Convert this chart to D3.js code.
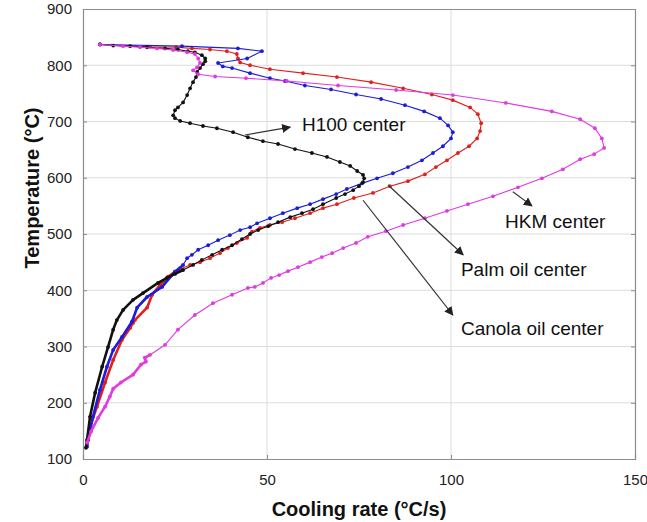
<!DOCTYPE html>
<html>
<head>
<meta charset="utf-8">
<script src="https://cdn.jsdelivr.net/npm/d3@7"></script>
<style>
  body { margin: 0; background: #fff; }
  text { font-family: "Liberation Sans", Arial, sans-serif; }
</style>
</head>
<body>
<div id="root"></div>
<script>
// cooling rate (°C/s), temperature (°C) pairs
const palmOil = [[4.6,837],[26.9,834],[42.1,830],[48.6,825],[44.6,812],[36.7,804],[38.0,798],[40.5,795],[45.4,786],[50.8,777],[54.9,772],[60.3,764],[67.4,757],[74.2,748],[81.0,740],[87.5,729],[92.7,718],[97.0,706],[99.2,693],[100.5,681],[100.0,670],[97.8,656],[95.1,644],[92.1,631],[88.3,619],[84.2,608],[79.9,599],[75.8,590],[71.7,580],[68.8,571],[65.2,562],[61.7,553],[58.2,546],[54.3,537],[50.8,528],[47.3,519],[45.4,512],[42.7,507],[39.9,498],[36.7,489],[34.0,480],[31.3,472],[29.6,463],[28.3,457],[27.2,445],[25.0,433],[21.5,406],[17.4,388],[14.7,369],[13.3,344],[10.6,317],[8.2,294],[6.5,264],[4.6,223],[2.7,175],[1.4,134],[1.1,122]];

const canolaOil = [[4.6,837],[18.2,833],[25.3,832],[29.6,830],[34.5,828],[39.1,825],[41.8,820],[42.1,812],[42.7,805],[45.4,800],[50.8,793],[59.8,786],[69.0,779],[78.3,770],[87.0,759],[94.8,748],[100.5,738],[105.2,725],[107.3,713],[108.2,697],[107.9,683],[107.1,670],[104.9,656],[101.9,644],[98.9,631],[95.9,619],[92.9,606],[88.3,594],[83.4,585],[78.8,573],[73.6,564],[69.0,553],[65.2,546],[61.7,537],[57.6,528],[54.1,521],[50.8,516],[48.1,511],[45.9,504],[44.6,493],[41.8,484],[39.4,475],[37.2,466],[34.5,457],[31.8,450],[29.1,445],[26.4,438],[25.0,433],[23.1,424],[20.9,409],[18.8,392],[17.4,369],[14.1,347],[13.6,342],[12.8,333],[10.6,312],[8.2,276],[6.0,236],[3.8,193],[1.9,157],[1.1,129]];

const h100 = [[4.6,837],[8.2,835],[12.8,834],[17.4,832],[22.3,830],[25.8,828],[28.5,825],[30.4,823],[32.3,818],[33.2,812],[33.2,807],[32.6,802],[31.8,795],[31.0,788],[30.7,779],[29.9,770],[29.1,759],[28.3,747],[27.2,734],[25.8,725],[25.0,720],[24.5,711],[25.0,706],[26.4,701],[29.1,697],[32.6,692],[36.4,688],[40.8,681],[44.8,672],[48.9,665],[53.0,660],[57.6,651],[62.2,644],[66.3,637],[69.8,628],[72.6,621],[74.5,612],[76.1,605],[76.4,599],[76.1,592],[75.0,585],[73.4,578],[71.2,571],[68.8,564],[65.2,553],[62.5,544],[59.5,537],[56.3,530],[53.0,521],[50.3,514],[47.6,507],[45.4,500],[43.2,491],[40.5,480],[37.8,472],[35.1,463],[32.3,454],[29.9,445],[27.2,436],[25.0,429],[22.8,422],[20.4,413],[16.3,395],[13.6,383],[10.9,365],[9.2,347],[8.2,330],[6.8,299],[5.2,264],[3.3,218],[1.9,175],[1.1,134],[0.8,120]];

const hkm = [[4.6,837],[10.9,834],[15.5,832],[20.1,830],[24.5,827],[28.3,823],[30.4,820],[31.3,812],[31.8,804],[31.0,796],[29.9,791],[31.3,784],[35.9,780],[44.3,777],[55.4,772],[69.3,764],[85.1,756],[100.5,747],[114.9,733],[127.4,718],[135.1,704],[139.1,688],[141.0,670],[141.6,653],[138.9,642],[135.1,633],[130.4,615],[124.7,599],[118.2,583],[111.4,567],[104.6,553],[98.9,541],[92.9,528],[87.0,516],[82.3,505],[77.4,495],[74.2,484],[70.7,475],[67.7,466],[64.9,459],[61.7,450],[58.4,441],[55.7,434],[53.3,427],[51.1,422],[48.9,413],[46.7,406],[44.8,404],[40.5,392],[35.3,377],[30.4,356],[25.8,330],[22.3,303],[18.2,285],[16.8,280],[17.1,273],[15.8,268],[13.6,250],[10.3,236],[8.2,225],[7.3,211],[6.0,193],[4.1,173],[2.2,149],[1.1,129]];

const seriesNames = ["Canola oil center", "Palm oil center", "H100 center", "HKM center"];
const seriesData = [canolaOil, palmOil, h100, hkm];
const seriesColors = ["#e0201c", "#1c1cd8", "#111111", "#e03ae0"];
const denseBelow = [440, 455, 440, 300];

const xTicks = [0, 50, 100, 150];
const yTicks = [100, 200, 300, 400, 500, 600, 700, 800, 900];

// label text, arrow tail, arrow head, text anchor point (data units)
const notes = [
  { text: "H100 center", from: [44.0, 676], to: [56.3, 690], at: [59.5, 692] },
  { text: "HKM center", from: [116.8, 575], to: [122.0, 550], at: [114.7, 520] },
  { text: "Palm oil center", from: [82.9, 587], to: [103.3, 463], at: [102.7, 434] },
  { text: "Canola oil center", from: [76.1, 560], to: [100.5, 356], at: [102.7, 329] }
];

const W = 647, H = 522;
const margin = { top: 9, right: 12, bottom: 63, left: 83 };
const width = W - margin.left - margin.right;
const height = H - margin.top - margin.bottom;

const svg = d3.select("#root").append("svg")
  .attr("width", W)
  .attr("height", H);

const x = d3.scaleLinear().domain([0, 150]).range([0, width]);
const y = d3.scaleLinear().domain([100, 900]).range([height, 0]);

const g = svg.append("g")
  .attr("transform", "translate(" + margin.left + "," + margin.top + ")");

// grid
g.append("g").selectAll("line")
  .data(yTicks.slice(1, -1))
  .enter().append("line")
  .attr("x1", 0).attr("x2", width)
  .attr("y1", d => y(d)).attr("y2", d => y(d))
  .attr("stroke", "#dcdcdc").attr("stroke-width", 1);

g.append("g").selectAll("line")
  .data(xTicks.slice(1, -1))
  .enter().append("line")
  .attr("y1", 0).attr("y2", height)
  .attr("x1", d => x(d)).attr("x2", d => x(d))
  .attr("stroke", "#dcdcdc").attr("stroke-width", 1);

// axes
const xAxis = g.append("g")
  .attr("transform", "translate(0," + height + ")")
  .call(d3.axisBottom(x).tickValues(xTicks).tickSize(-4).tickPadding(15));
const yAxis = g.append("g")
  .call(d3.axisLeft(y).tickValues(yTicks).tickSize(-4).tickPadding(11));
const rAxis = g.append("g")
  .attr("transform", "translate(" + width + ",0)")
  .call(d3.axisRight(y).tickValues(yTicks).tickSize(-4).tickFormat(""));
const tAxis = g.append("g")
  .call(d3.axisTop(x).tickValues(xTicks).tickSize(0).tickFormat(""));

[xAxis, yAxis, rAxis, tAxis].forEach(a => {
  a.select(".domain").attr("stroke", "#8c8c8c").attr("stroke-width", 1.2);
  a.selectAll(".tick line").attr("stroke", "#8c8c8c");
  a.selectAll(".tick text").attr("font-size", 15).attr("fill", "#222")
    .attr("font-family", "Liberation Sans, Arial, sans-serif");
});

// series
const line = d3.line().x(d => x(d[0])).y(d => y(d[1]));

seriesData.forEach((data, i) => {
  g.append("path")
    .datum(data)
    .attr("d", line)
    .attr("fill", "none")
    .attr("stroke", seriesColors[i])
    .attr("stroke-width", 1.1);

  g.append("path")
    .datum(data.filter(d => d[1] <= denseBelow[i]))
    .attr("d", line)
    .attr("fill", "none")
    .attr("stroke", seriesColors[i])
    .attr("stroke-width", 2.6)
    .attr("stroke-linejoin", "round");

  g.append("g").selectAll("circle")
    .data(data)
    .enter().append("circle")
    .attr("cx", d => x(d[0]))
    .attr("cy", d => y(d[1]))
    .attr("r", 1.9)
    .attr("fill", seriesColors[i]);
});

// annotations
svg.append("defs").append("marker")
  .attr("id", "arrow")
  .attr("viewBox", "0 0 10 10")
  .attr("refX", 9).attr("refY", 5)
  .attr("markerWidth", 9).attr("markerHeight", 9)
  .attr("markerUnits", "userSpaceOnUse")
  .attr("orient", "auto")
  .append("path")
  .attr("d", "M0,0 L10,5 L0,10 z")
  .attr("fill", "#222");

notes.forEach(n => {
  g.append("line")
    .attr("x1", x(n.from[0])).attr("y1", y(n.from[1]))
    .attr("x2", x(n.to[0])).attr("y2", y(n.to[1]))
    .attr("stroke", "#333").attr("stroke-width", 1.2)
    .attr("marker-end", "url(#arrow)");
  g.append("text")
    .attr("x", x(n.at[0])).attr("y", y(n.at[1]))
    .attr("dominant-baseline", "middle")
    .attr("font-size", 19)
    .attr("fill", "#111")
    .text(n.text);
});

// titles
svg.append("text")
  .attr("x", margin.left + width / 2)
  .attr("y", 511)
  .attr("text-anchor", "middle")
  .attr("dominant-baseline", "middle")
  .attr("font-size", 20).attr("font-weight", "bold")
  .attr("fill", "#111")
  .text("Cooling rate (°C/s)");

svg.append("text")
  .attr("transform", "translate(34,188) rotate(-90)")
  .attr("text-anchor", "middle")
  .attr("dominant-baseline", "middle")
  .attr("font-size", 20).attr("font-weight", "bold")
  .attr("fill", "#111")
  .text("Temperature (°C)");
</script>
</body>
</html>
